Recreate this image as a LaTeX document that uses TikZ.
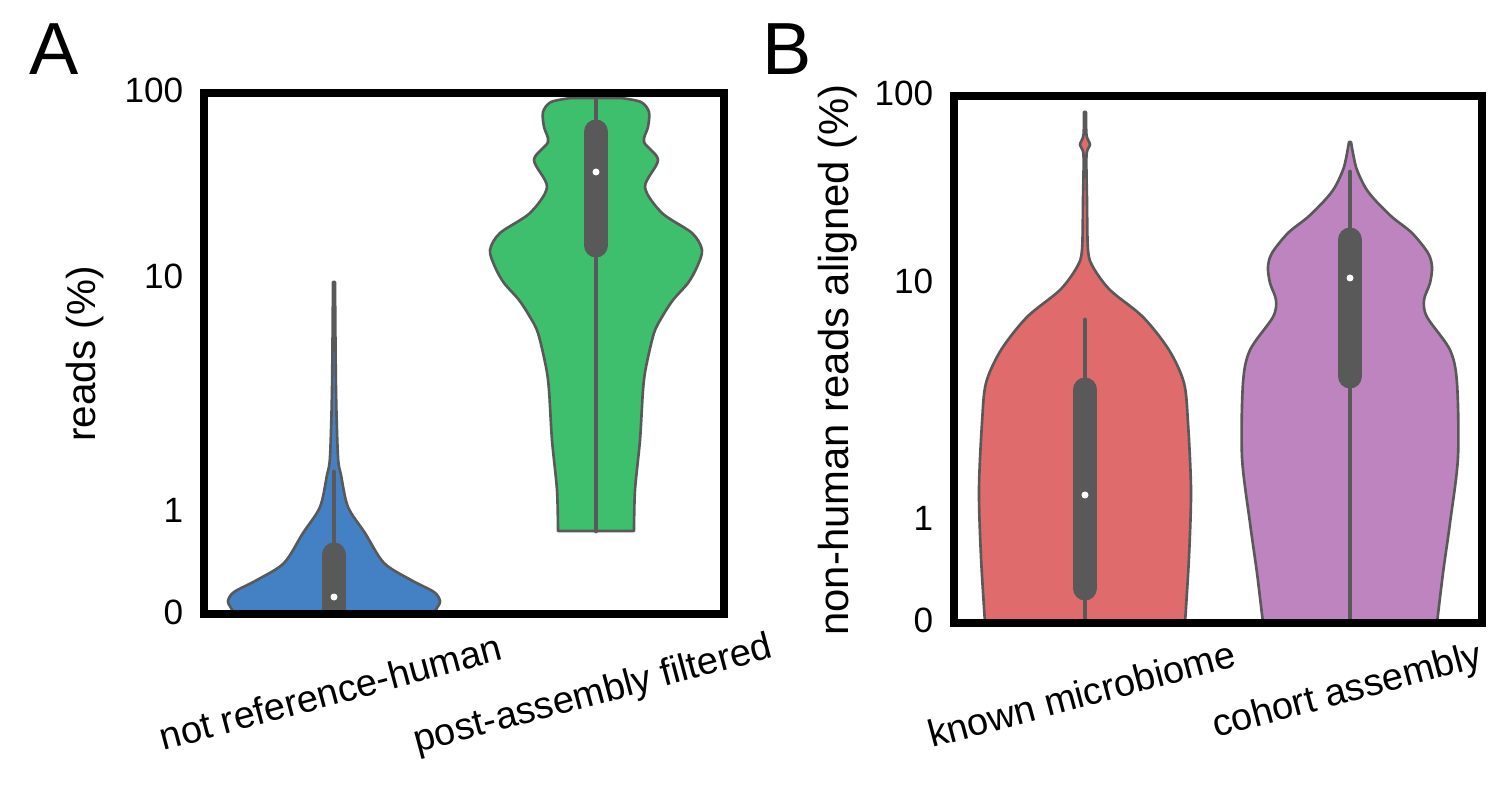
\documentclass[tikz,border=0pt]{standalone}
\usepackage{fontspec}
\setmainfont{Liberation Sans}
\usepackage{tikz}
\usetikzlibrary{positioning}
\definecolor{vblue}{HTML}{4480C4}
\definecolor{vgreen}{HTML}{3DBF6E}
\definecolor{vred}{HTML}{DF6B6C}
\definecolor{vpurple}{HTML}{BE84C0}
\definecolor{vgrey}{HTML}{595959}
\tikzset{
x=0.01cm, y=-0.01cm, % one unit is one pixel of the plot, y runs downwards
frame/.style={line width=2pt, black}, % plot borders
violin/.style={draw=vgrey, line width=0.75pt, line join=round}, % violin outline
whisker/.style={vgrey, line width=1.4pt, line cap=round},
iqr/.style={vgrey, line width=7.1pt, line cap=round}, % inter quartile box
median/.style={fill=white, draw=none},
ticklab/.style={anchor=east, inner sep=0pt, font=\fontsize{10}{12}\selectfont},
ylab/.style={rotate=90, inner sep=0pt, font=\fontsize{11.5}{13}\selectfont},
xlab/.style={rotate=15, anchor=base, inner sep=0pt, font=\fontsize{10.8}{13}\selectfont},
panel/.style={inner sep=0pt, font=\fontsize{21}{24}\selectfont},
}

\begin{document}
\begin{tikzpicture}
        \useasboundingbox (0,0) rectangle (1502,785);
        \node[panel] (A) at (54,49) {A};
        \node[panel] (B) at (787,49) {B};
        %Panel A violins
        \begin{scope}[shift={(334,0)}]
        \draw[violin, fill=vblue] plot[smooth] coordinates {(-1,282) (-2,390) (-4,457) (-7,475) (-14,507) (-31,533) (-50,563) (-77,580) (-100,592) (-106,601) (-103,608) (-99,614)}
            -- plot[smooth] coordinates {(99,614) (103,608) (106,601) (100,592) (77,580) (50,563) (31,533) (14,507) (7,475) (4,457) (2,390) (1,282)} -- cycle;
        \end{scope}
        \begin{scope}[shift={(596,0)}]
        \draw[violin, fill=vgreen] plot[smooth] coordinates {(-25,98) (-45,102) (-53,112) (-52,127) (-48,142) (-62,160) (-49,187) (-66,213) (-96,233) (-106,250) (-101,267) (-92,283) (-77,300) (-66,317) (-58,333) (-50,367) (-47,390) (-44,440) (-39,490) (-38,531)}
            -- plot[smooth] coordinates {(38,531) (39,490) (44,440) (47,390) (50,367) (58,333) (66,317) (77,300) (92,283) (101,267) (106,250) (96,233) (66,213) (49,187) (62,160) (48,142) (52,127) (53,112) (45,102) (25,98)} -- cycle;
        \end{scope}
        \begin{scope}
        \clip (204,93) rectangle (724,614);
        \draw[whisker] (334,472) -- (334,611);
        \draw[iqr] (334,555) -- (334,611);
        \end{scope}
        \fill[median] (334,597) circle (3.5);
        \draw[whisker] (596,97) -- (596,531);
        \draw[iqr] (596,132) -- (596,245);
        \fill[median] (596,172) circle (3.5);
        %Panel B violins
        \begin{scope}[shift={(1085,0)}]
        \draw[violin, fill=vred] plot[smooth] coordinates {(-1,112) (-1.5,135) (-5,145) (-1.5,155) (-2,200) (-3,250) (-8,267) (-25,290) (-58,317) (-84,350) (-99,383) (-103,423) (-106,490) (-104,557) (-100,623)}
            -- plot[smooth] coordinates {(100,623) (104,557) (106,490) (103,423) (99,383) (84,350) (58,317) (25,290) (8,267) (3,250) (2,200) (1.5,155) (5,145) (1.5,135) (1,112)} -- cycle;
        \end{scope}
        \begin{scope}[shift={(1350,0)}]
        \draw[violin, fill=vpurple] plot[smooth] coordinates {(-1,142) (-6,167) (-15,187) (-25,200) (-42,217) (-62,233) (-78,253) (-82,267) (-80,283) (-74,300) (-77,317) (-100,350) (-107,383) (-108,457) (-100,523) (-93,573) (-87,623)}
            -- plot[smooth] coordinates {(87,623) (93,573) (100,523) (108,457) (107,383) (100,350) (77,317) (74,300) (80,283) (82,267) (78,253) (62,233) (42,217) (25,200) (15,187) (6,167) (1,142)} -- cycle;
        \end{scope}
        \draw[whisker] (1085,320) -- (1085,622);
        \draw[iqr] (1085,390) -- (1085,588);
        \fill[median] (1085,495) circle (3.5);
        \draw[whisker] (1350,172) -- (1350,622);
        \draw[iqr] (1350,240) -- (1350,376);
        \fill[median] (1350,278) circle (3.5);
        %Frames
        \draw[frame] (204,93) rectangle (724,614);
        \draw[frame] (954,96) rectangle (1482,623);
        %Ticks and labels
        \node[ticklab] (a100) at (184,90) {100};
        \node[ticklab] (a10) at (184,276) {10};
        \node[ticklab] (a1) at (184,510) {1};
        \node[ticklab] (a0) at (184,612) {0};
        \node[ticklab] (b100) at (934,93) {100};
        \node[ticklab] (b10) at (934,281) {10};
        \node[ticklab] (b1) at (934,518) {1};
        \node[ticklab] (b0) at (934,620) {0};
        \node[ylab] (ylabA) at (85,354) {reads (\%)};
        \node[ylab, font=\fontsize{11.9}{14}\selectfont] (ylabB) at (838,360) {non-human reads aligned (\%)};
        \node[xlab] (xnotref) at (334,705) {not reference-human};
        \node[xlab] (xpost) at (596,705) {post-assembly filtered};
        \node[xlab] (xknown) at (1085,707) {known microbiome};
        \node[xlab] (xcohort) at (1350,702) {cohort assembly};
\end{tikzpicture}
\end{document}
